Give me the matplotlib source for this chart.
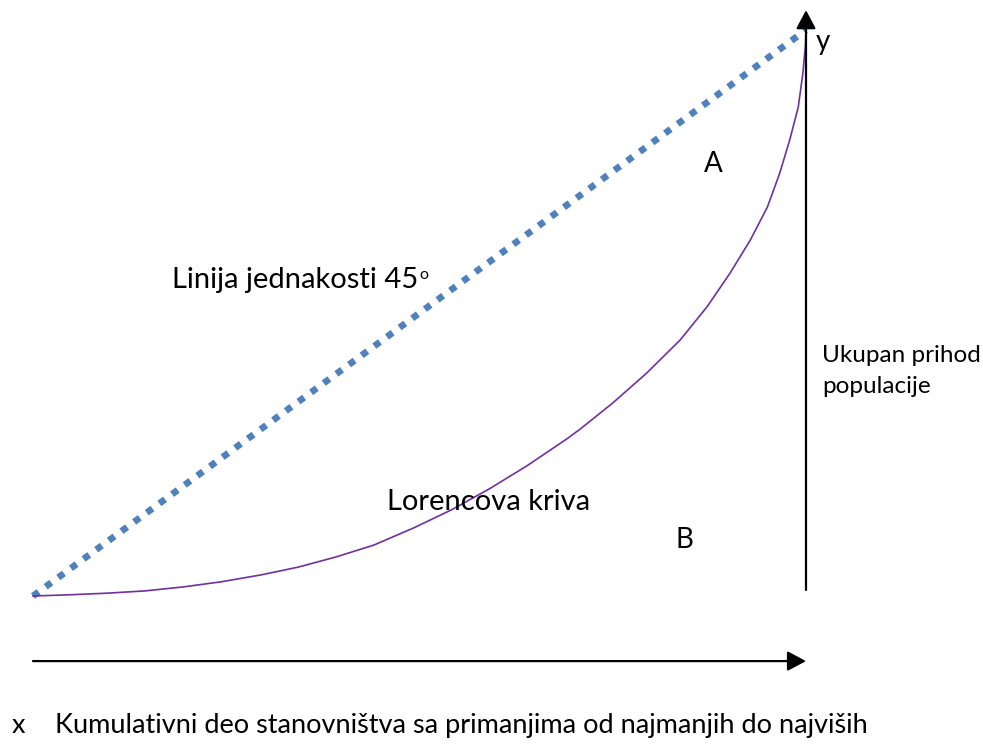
import matplotlib.pyplot as plt

plt.rcParams['font.family'] = ['Lato', 'DejaVu Sans']

# Lorencova kriva (kumulativni udeo stanovništva -> udeo prihoda), očitano sa slike
udeo_stanovnistva = [0, 0.045, 0.096, 0.145, 0.194, 0.243, 0.294, 0.343, 0.392,
                     0.441, 0.492, 0.541, 0.590, 0.639, 0.690, 0.708, 0.750,
                     0.794, 0.837, 0.872, 0.902, 0.928, 0.950, 0.966, 0.979,
                     0.990, 0.996, 0.9993, 1.0]
udeo_prihoda = [0, 0.002, 0.005, 0.009, 0.016, 0.025, 0.037, 0.051, 0.069,
                0.090, 0.120, 0.152, 0.189, 0.230, 0.277, 0.295, 0.341,
                0.394, 0.452, 0.511, 0.571, 0.629, 0.687, 0.747, 0.806,
                0.864, 0.924, 0.973, 1.0]

# Linija jednakosti 45°
jednakost_x = [0, 1]
jednakost_y = [0, 1]

fig = plt.figure(figsize=(9.83, 7.48), dpi=100)
ax = fig.add_axes([33 / 983, 152 / 748, 773 / 983, 566 / 748])
ax.set_xlim(0, 1)
ax.set_ylim(0, 1)
ax.axis('off')

# linija jednakosti (kvadratne tačke)
ax.plot(jednakost_x, jednakost_y, color='#4F81BD', linewidth=4.8,
        linestyle=(0, (1.05, 1.3)), dash_capstyle='butt', clip_on=False)

# Lorencova kriva
ax.plot(udeo_stanovnistva, udeo_prihoda, color='#7030A0', linewidth=1.2,
        clip_on=False, solid_joinstyle='round')

# strelice (ose)
strelica = dict(arrowstyle='-|>,head_length=0.75,head_width=0.4',
                mutation_scale=15, lw=1.6, color='black', shrinkA=0, shrinkB=0)
ax.annotate('', xy=(1.0, 1.035), xytext=(1.0, 0.0106),
            arrowprops=strelica, annotation_clip=False)
ax.annotate('', xy=(1.0, -0.115), xytext=(0.0, -0.115),
            arrowprops=strelica, annotation_clip=False)

# tekstovi
ax.text(1.012, 0.965, 'y', fontsize=20, va='baseline', ha='left')
ax.text(0.880, 0.749, 'A', fontsize=20, va='baseline', ha='center')
t45 = ax.text(0.180, 0.544, 'Linija jednakosti 45', fontsize=21,
              va='baseline', ha='left')
ax.text(0.458, 0.152, 'Lorencova kriva', fontsize=21, va='baseline', ha='left')
ax.text(0.843, 0.085, 'B', fontsize=20, va='baseline', ha='center')
ax.text(1.021, 0.413, 'Ukupan prihod', fontsize=17.5, va='baseline', ha='left')
ax.text(1.021, 0.359, 'populacije', fontsize=17.5, va='baseline', ha='left')
ax.text(-0.027, -0.242, 'x', fontsize=19.5, va='baseline', ha='left')
ax.text(0.028, -0.242,
        'Kumulativni deo stanovništva sa primanjima od najmanjih do najviših',
        fontsize=19.5, va='baseline', ha='left')

# eksponent "o" iza 45
fig.canvas.draw()
sirina = t45.get_window_extent().width * 72 / fig.dpi
ax.annotate('o', xy=(0.180, 0.544), xytext=(sirina + 1, 6.5),
            textcoords='offset points', fontsize=11.5, va='baseline', ha='left')

fig.savefig('out.png', dpi=100, facecolor='white')
